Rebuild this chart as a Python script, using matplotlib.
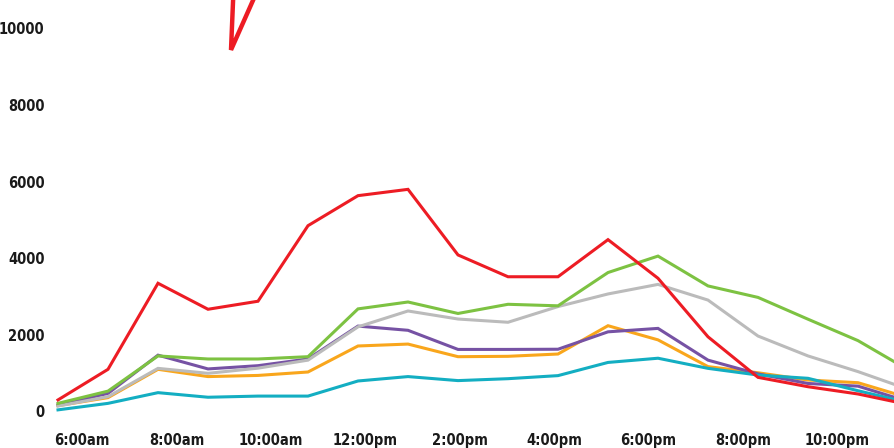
import numpy as np
import matplotlib
matplotlib.use("Agg")
import matplotlib.pyplot as plt

# One sample per time slot across the day
red = [290, 1090, 3340, 2660, 2870, 4845, 5630, 5795, 4080, 3510, 3510, 4480, 3470, 1940, 880, 635, 445, 170]
green = [200, 520, 1440, 1360, 1360, 1420, 2670, 2850, 2550, 2790, 2750, 3620, 4050, 3270, 2970, 2400, 1840, 1080]
gray = [130, 375, 1115, 985, 1120, 1330, 2200, 2615, 2405, 2320, 2730, 3060, 3310, 2900, 1960, 1440, 1030, 570]
purple = [160, 460, 1460, 1100, 1185, 1360, 2220, 2110, 1610, 1610, 1615, 2070, 2160, 1330, 970, 720, 650, 250]
orange = [140, 350, 1090, 900, 930, 1020, 1700, 1750, 1420, 1430, 1490, 2230, 1860, 1160, 1000, 810, 740, 350]
teal = [30, 200, 480, 360, 390, 390, 785, 900, 795, 845, 925, 1270, 1380, 1115, 940, 855, 530, 220]

# Red stroke entering from the panel above
spike_x = [3.51, 3.46, 3.99]
spike_y = [11000, 9440, 11000]

time_labels = ["6:00am", "8:00am", "10:00am", "12:00pm", "2:00pm",
               "4:00pm", "6:00pm", "8:00pm", "10:00pm"]
y_ticks = [0, 2000, 4000, 6000, 8000, 10000]

colors = {
    "orange": "#F9A61C",
    "purple": "#7652A4",
    "gray": "#BBBBBB",
    "green": "#7DC242",
    "teal": "#13AEC2",
    "red": "#ED1C24",
}

plt.rcParams["font.family"] = ["DejaVu Sans"]
plt.rcParams["font.stretch"] = "condensed"

fig = plt.figure(figsize=(8.94, 4.48), dpi=100)
ax = fig.add_axes([50 / 894, 28 / 448, 844 / 894, 420 / 448])

x = np.arange(len(red))
series = [("orange", orange), ("purple", purple), ("gray", gray),
          ("green", green), ("teal", teal), ("red", red)]
for name, vals in series:
    ax.plot(x, vals, color=colors[name], lw=2.2, solid_joinstyle="miter")

ax.plot(spike_x, spike_y, color=colors["red"], lw=3.2, solid_joinstyle="miter")

ax.set_xlim(-0.16, 16.72)
ax.set_ylim(-235, 10745)

# Time labels every two hours
label_pos = 0.48 + 1.888 * np.arange(len(time_labels))
ax.set_xticks(label_pos)
ax.set_xticklabels(time_labels)
ax.set_yticks(y_ticks)
ax.set_yticklabels([str(v) for v in y_ticks])

ax.tick_params(axis="both", length=0, labelsize=10.5, colors="#1a1a1a")
ax.tick_params(axis="x", pad=9)
ax.tick_params(axis="y", pad=4)
for lbl in ax.get_xticklabels() + ax.get_yticklabels():
    lbl.set_fontweight("bold")
    lbl.set_fontstretch("condensed")
for s in ax.spines.values():
    s.set_visible(False)

fig.savefig("out.png", dpi=100)
